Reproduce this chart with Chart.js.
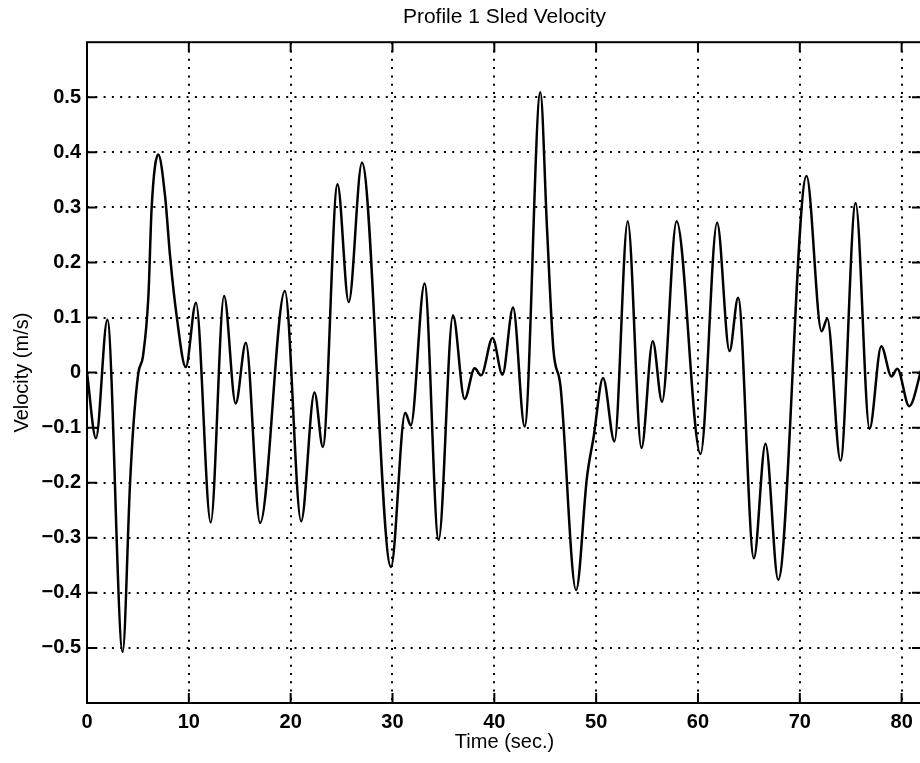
<!DOCTYPE html>
<html>
<head>
<meta charset="utf-8">
<title>Profile 1 Sled Velocity</title>
<script src="https://cdn.jsdelivr.net/npm/chart.js@4.4.0/dist/chart.umd.min.js"></script>
<style>
  html, body { margin: 0; padding: 0; overflow: hidden; background: #fff; }
</style>
</head>
<body>
<canvas id="sledChart" width="925" height="763"></canvas>
<script>
// values (time in s, velocity in m/s)
const timeSec = [
  0, 0.88, 2.0, 3.5, 4.23, 4.55, 5.05, 5.5, 6.03, 6.35, 7.0, 7.67, 8.16, 8.81, 9.7,
  10.7, 12.15, 13.46, 14.6, 15.6, 17.0, 19.43, 21.03, 22.34, 23.16, 24.6, 25.7, 27.0,
  29.85, 31.25, 31.8, 33.15, 34.53, 35.94, 37.08, 38.07, 38.7, 39.83, 40.8, 41.84, 42.98,
  44.52, 45.18, 45.8, 46.5, 48.03, 49.1, 49.76, 50.68, 51.8, 53.1, 54.45, 55.56, 56.47,
  57.9, 60.25, 61.88, 63.1, 63.94, 65.49, 66.63, 67.88, 70.66, 72.14, 72.7, 74.0, 75.48,
  76.85, 78.0, 79.0, 79.57, 80.75, 82.0
];
const velocity = [
  0, -0.119, 0.096, -0.507, -0.2, -0.098, 0.0, 0.03, 0.139, 0.3, 0.396, 0.32, 0.211, 0.102, 0.01,
  0.127, -0.272, 0.139, -0.056, 0.054, -0.273, 0.148, -0.27, -0.036, -0.135, 0.342, 0.128, 0.381,
  -0.353, -0.073, -0.096, 0.162, -0.304, 0.104, -0.048, 0.008, -0.005, 0.063, -0.004, 0.118, -0.098,
  0.509, 0.26, 0.042, -0.025, -0.395, -0.19, -0.116, -0.01, -0.125, 0.275, -0.137, 0.057, -0.053,
  0.275, -0.148, 0.272, 0.039, 0.136, -0.337, -0.129, -0.376, 0.357, 0.075, 0.098, -0.16, 0.308,
  -0.102, 0.048, -0.007, 0.007, -0.061, 0.01
];
const xTicks = [0, 10, 20, 30, 40, 50, 60, 70, 80];
const yTicks = [-0.5, -0.4, -0.3, -0.2, -0.1, 0, 0.1, 0.2, 0.3, 0.4, 0.5];

const points = timeSec.map((t, i) => ({ x: t, y: velocity[i] }));

function fmtY(v) {
  if (Math.abs(v) < 1e-9) return '0';
  return (v < 0 ? '\u2212' : '') + Math.abs(v).toFixed(1);
}

// box round the plot + inward tick marks on all four sides
const frameTicks = {
  id: 'frameTicks',
  afterDraw(chart) {
    const { ctx, chartArea: a, scales } = chart;
    const x = scales.x, y = scales.y;
    const len = 10;
    ctx.save();
    ctx.strokeStyle = '#000';
    ctx.lineWidth = 2;
    ctx.beginPath();
    x.ticks.forEach(t => {
      const px = x.getPixelForValue(t.value);
      ctx.moveTo(px, a.bottom); ctx.lineTo(px, a.bottom - len);
      ctx.moveTo(px, a.top); ctx.lineTo(px, a.top + len);
    });
    y.ticks.forEach(t => {
      const py = y.getPixelForValue(t.value);
      ctx.moveTo(a.left, py); ctx.lineTo(a.left + len, py);
      ctx.moveTo(a.right, py); ctx.lineTo(a.right - len, py);
    });
    ctx.stroke();
    ctx.strokeRect(a.left, a.top, a.right - a.left, a.bottom - a.top);
    ctx.restore();
  }
};

Chart.defaults.font.family = '"Liberation Sans", Arial, Helvetica, sans-serif';
Chart.defaults.color = '#000';

new Chart(document.getElementById('sledChart'), {
  type: 'line',
  data: {
    datasets: [{
      data: points,
      borderColor: '#000',
      borderWidth: 2.5,
      pointRadius: 0,
      fill: false,
      cubicInterpolationMode: 'monotone'
    }]
  },
  options: {
    responsive: false,
    animation: false,
    layout: { padding: { left: 0, right: 3, top: 0, bottom: 0 } },
    plugins: {
      legend: { display: false },
      tooltip: { enabled: false },
      title: {
        display: true,
        fullSize: false,
        text: 'Profile 1 Sled Velocity',
        font: { size: 21, weight: 'normal' },
        padding: { top: 5, bottom: 12 }
      }
    },
    scales: {
      x: {
        type: 'linear',
        min: 0,
        max: 82,
        afterBuildTicks: s => { s.ticks = xTicks.map(v => ({ value: v })); },
        afterFit: s => { s.height = 60; },
        ticks: { font: { size: 20, weight: 'bold' }, padding: 7, maxRotation: 0 },
        grid: { color: '#000', lineWidth: 2, drawTicks: false },
        border: { display: false, dash: [2, 6.3] },
        title: { display: true, text: 'Time (sec.)', font: { size: 20 }, padding: 9 }
      },
      y: {
        type: 'linear',
        min: -0.6,
        max: 0.6,
        afterBuildTicks: s => { s.ticks = yTicks.map(v => ({ value: v })); },
        afterFit: s => { s.width = 87; },
        ticks: { font: { size: 20, weight: 'bold' }, padding: 6, callback: v => fmtY(v) },
        grid: { color: '#000', lineWidth: 2, drawTicks: false },
        border: { display: false, dash: [2, 6.3] },
        title: { display: true, text: 'Velocity (m/s)', font: { size: 20 }, padding: 10 }
      }
    }
  },
  plugins: [frameTicks]
});
</script>
</body>
</html>
